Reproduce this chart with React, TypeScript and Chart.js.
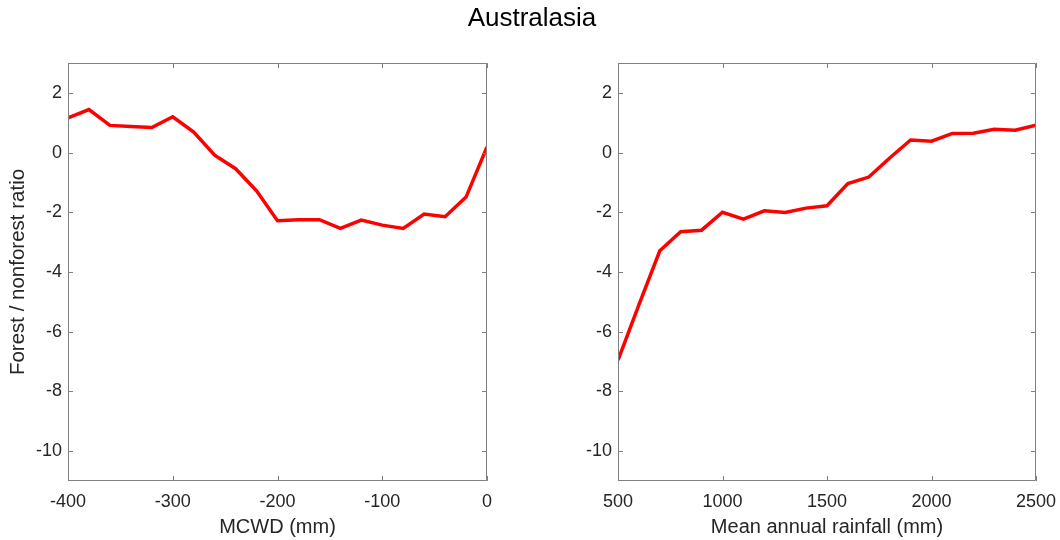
import React, { useEffect, useRef } from "react";
import { Chart, registerables } from "chart.js";

Chart.register(...registerables);

const chartTitle = "Australasia";
const yAxisLabel = "Forest / nonforest ratio";

const mcwdLabel = "MCWD (mm)";
const mcwdX = [-400, -380, -360, -340, -320, -300, -280, -260, -240, -220, -200, -180, -160, -140, -120, -100, -80, -60, -40, -20, 0];
const mcwdRatio = [1.16, 1.44, 0.91, 0.87, 0.84, 1.2, 0.69, -0.09, -0.54, -1.28, -2.28, -2.25, -2.25, -2.54, -2.26, -2.43, -2.54, -2.06, -2.15, -1.49, 0.19];
const mcwdTicks = [-400, -300, -200, -100, 0];

const rainLabel = "Mean annual rainfall (mm)";
const rainX = [500, 600, 700, 800, 900, 1000, 1100, 1200, 1300, 1400, 1500, 1600, 1700, 1800, 1900, 2000, 2100, 2200, 2300, 2400, 2500];
const rainRatio = [-6.95, -5.1, -3.29, -2.65, -2.6, -2.0, -2.23, -1.95, -2.01, -1.86, -1.78, -1.04, -0.82, -0.18, 0.42, 0.38, 0.64, 0.65, 0.78, 0.75, 0.92];
const rainTicks = [500, 1000, 1500, 2000, 2500];

const yTicks = [-10, -8, -6, -4, -2, 0, 2];
const yMin = -11;
const yMax = 3;

const FONT = '"Liberation Sans", Arial, Helvetica, sans-serif';
const TEXT = "#262626";
const AXIS = "#808080";

const boxPlugin = {
  id: "matlabBox",
  afterDraw(chart: any) {
    const { ctx, chartArea: a, scales } = chart;
    const tl = 5;
    ctx.save();
    ctx.strokeStyle = AXIS;
    ctx.lineWidth = 1;
    ctx.beginPath();
    ctx.rect(a.left + 0.5, a.top + 0.5, a.right - a.left - 1, a.bottom - a.top - 1);
    ctx.stroke();
    ctx.beginPath();
    for (const t of scales.x.ticks) {
      const px = Math.round(scales.x.getPixelForValue(t.value)) + 0.5;
      ctx.moveTo(px, a.bottom);
      ctx.lineTo(px, a.bottom - tl);
      ctx.moveTo(px, a.top);
      ctx.lineTo(px, a.top + tl);
    }
    for (const t of scales.y.ticks) {
      const py = Math.round(scales.y.getPixelForValue(t.value)) + 0.5;
      ctx.moveTo(a.left, py);
      ctx.lineTo(a.left + tl, py);
      ctx.moveTo(a.right, py);
      ctx.lineTo(a.right - tl, py);
    }
    ctx.stroke();
    ctx.restore();
  },
};

function Panel(props: {
  xs: number[];
  ys: number[];
  xTicks: number[];
  xLabel: string;
  showYLabel: boolean;
  yAxisWidth: number;
  padRight: number;
}) {
  const ref = useRef<HTMLCanvasElement | null>(null);
  useEffect(() => {
    if (!ref.current) return;
    const { xs, ys, xTicks, xLabel, showYLabel, yAxisWidth, padRight } = props;
    const chart = new Chart(ref.current, {
      type: "line",
      data: {
        datasets: [
          {
            data: xs.map((x, i) => ({ x, y: ys[i] })),
            borderColor: "#ff0000",
            borderWidth: 3.5,
            pointRadius: 0,
            tension: 0,
            fill: false,
          },
        ],
      },
      options: {
        responsive: false,
        animation: false,
        devicePixelRatio: 1,
        layout: { padding: { top: 63, right: padRight, bottom: 0, left: 0 } },
        plugins: { legend: { display: false }, tooltip: { enabled: false }, title: { display: false } },
        scales: {
          x: {
            type: "linear",
            min: xTicks[0],
            max: xTicks[xTicks.length - 1],
            afterBuildTicks: (s: any) => {
              s.ticks = xTicks.map((v) => ({ value: v }));
            },
            afterFit: (s: any) => {
              s.height = 59;
              s.paddingLeft = 0;
              s.paddingRight = 0;
            },
            grid: { display: false, drawTicks: false },
            border: { display: false },
            ticks: {
              font: { family: FONT, size: 18 },
              color: TEXT,
              padding: 10,
              maxRotation: 0,
              autoSkip: false,
              callback: (v: any) => String(v),
            },
            title: {
              display: true,
              text: xLabel,
              font: { family: FONT, size: 20 },
              color: TEXT,
              padding: { top: 0, bottom: 1 },
            },
          },
          y: {
            type: "linear",
            min: yMin,
            max: yMax,
            afterBuildTicks: (s: any) => {
              s.ticks = yTicks.map((v) => ({ value: v }));
            },
            afterFit: (s: any) => {
              s.width = yAxisWidth;
              s.paddingTop = 0;
              s.paddingBottom = 0;
            },
            grid: { display: false, drawTicks: false },
            border: { display: false },
            ticks: {
              font: { family: FONT, size: 18 },
              color: TEXT,
              padding: 6,
              autoSkip: false,
              callback: (v: any) => String(v),
            },
            title: {
              display: showYLabel,
              text: yAxisLabel,
              font: { family: FONT, size: 20.5 },
              color: TEXT,
              padding: { top: 6.5, bottom: 0 },
            },
          },
        },
      },
      plugins: [boxPlugin],
    } as any);
    return () => chart.destroy();
  }, []);
  return <canvas ref={ref} width={530} height={540} style={{ display: "block", width: 530, height: 540 }} />;
}

export default function App() {
  return (
    <div style={{ position: "absolute", left: 0, top: 0, width: 1060, height: 540, background: "#fff", overflow: "hidden" }}>
      <div style={{ position: "absolute", left: 0, top: 0, width: 530, height: 540 }}>
        <Panel xs={mcwdX} ys={mcwdRatio} xTicks={mcwdTicks} xLabel={mcwdLabel} showYLabel={true} yAxisWidth={68} padRight={43} />
      </div>
      <div style={{ position: "absolute", left: 530, top: 0, width: 530, height: 540 }}>
        <Panel xs={rainX} ys={rainRatio} xTicks={rainTicks} xLabel={rainLabel} showYLabel={false} yAxisWidth={88} padRight={24} />
      </div>
      <div
        style={{
          position: "absolute",
          left: 0,
          top: 0,
          width: 1064,
          height: 34,
          lineHeight: "34px",
          textAlign: "center",
          fontFamily: FONT,
          fontSize: 26,
          color: "#000",
        }}
      >
        {chartTitle}
      </div>
    </div>
  );
}
